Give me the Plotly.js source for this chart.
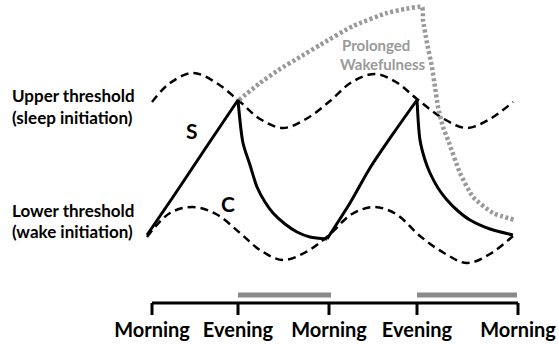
<!DOCTYPE html>
<html>
<head>
<meta charset="utf-8">
<script src="https://cdn.plot.ly/plotly-3.0.1.min.js"></script>
<style>html,body{margin:0;padding:0;background:#fff;}#chart{width:559px;height:344px;}</style>
</head>
<body>
<div id="chart"></div>
<script>
// Time in arbitrary units (0 = first morning), level in arbitrary units
const upperX = [0,18,41,63,86,108,131,154,178,200,223,244,265,292,315,338,361];
const upperY = [198,217,227,218,200,181,172,181,199,218,226,218,201,181,172,181,198];
const lowerX = [-5,18,41,64,88,108,131,154,176,200,222,244,268,292,315,338,361];
const lowerY = [63,87,93,86,67,50,40,48,64,86,93,86,64,47,37,46,64];
const wake1X = [-5,21,55,86];
const wake1Y = [65,103,154,200];
const sleep1X = [86,91,98,105,113,121,133,145,158,175];
const sleep1Y = [200,157,135,113,98,87,76,68,63,61];
const wake2X = [175,198,218,243,265];
const wake2Y = [61,97,132,169,200];
const sleep2X = [265,268,273,278,286,295,306,318,338,361];
const sleep2Y = [200,160,140,127,112,100,89,80,71,65];
const prolongedX = [87,108,128,148,168,201,235,253,270,271,275,280,283,286,291,296,308,321,341,363];
const prolongedY = [200,217,231,243,255,274,287,291,293,280,257,233,213,193,173,160,127,103,87,80];
const tickPos = [0,86,177,265,366];
const tickLabels = ["Morning","Evening","Morning","Evening","Morning"];
const sleepStart = [86,265];
const sleepEnd = [179,365];

const FONT = "Lato, 'Open Sans', sans-serif";
const traces = [];
const dashed = {color:'#000', width:2.5, dash:'8px,5px', shape:'spline', smoothing:1};
traces.push({x:upperX, y:upperY, mode:'lines', line:dashed, hoverinfo:'skip'});
traces.push({x:lowerX, y:lowerY, mode:'lines', line:dashed, hoverinfo:'skip'});
traces.push({x:prolongedX, y:prolongedY, mode:'lines', line:{color:'#999999', width:4.5, dash:'3px,2.5px', shape:'spline', smoothing:0.5}, hoverinfo:'skip'});
[[wake1X,wake1Y],[sleep1X,sleep1Y],[wake2X,wake2Y],[sleep2X,sleep2Y]].forEach(function(s){
  traces.push({x:s[0], y:s[1], mode:'lines', line:{color:'#000', width:3, shape:'spline', smoothing:0.8}, hoverinfo:'skip'});
});
// timeline
const lineY = -3, tickBottom = -15, barY = 5, labelY = -32;
traces.push({x:[tickPos[0], tickPos[tickPos.length-1]], y:[lineY,lineY], mode:'lines', line:{color:'#000', width:3}, hoverinfo:'skip'});
const tx = [], ty = [];
tickPos.forEach(function(p){ tx.push(p,p,null); ty.push(lineY,tickBottom,null); });
traces.push({x:tx, y:ty, mode:'lines', line:{color:'#000', width:3}, hoverinfo:'skip'});
const bx = [], by = [];
sleepStart.forEach(function(s,i){ bx.push(s, sleepEnd[i], null); by.push(barY, barY, null); });
traces.push({x:bx, y:by, mode:'lines', line:{color:'#8a8a8a', width:5}, hoverinfo:'skip'});
traces.push({x:tickPos, y:tickPos.map(function(){return labelY;}), mode:'text', text:tickLabels, textposition:'middle center', textfont:{family:FONT, size:20, color:'#000', weight:'bold'}, hoverinfo:'skip', cliponaxis:false});

function ann(x,y,text,size,color,anchor){
  return {x:x, y:y, xref:'x', yref:'y', text:text, showarrow:false, xanchor:anchor||'left', yanchor:'middle', font:{family:FONT, size:size, color:color||'#000', weight:'bold'}};
}
const layout = {
  width:559, height:344, margin:{l:0,r:0,t:0,b:0}, showlegend:false,
  paper_bgcolor:'#fff', plot_bgcolor:'#fff',
  xaxis:{range:[-152,407], visible:false, fixedrange:true},
  yaxis:{range:[-44,300], visible:false, fixedrange:true},
  annotations:[
    ann(-142,205,'<b>Upper threshold</b>',17),
    ann(-142,183,'<b>(sleep initiation)</b>',17),
    ann(-142,90,'<b>Lower threshold</b>',17),
    ann(-142,69,'<b>(wake initiation)</b>',17),
    ann(40,170,'<b>S</b>',21,'#000','center'),
    ann(76,97,'<b>C</b>',21,'#000','center'),
    ann(188,255,'<b>Prolonged</b>',15,'#9a9a9a'),
    ann(186,236,'<b>Wakefulness</b>',15,'#9a9a9a')
  ]
};
Plotly.newPlot('chart', traces, layout, {staticPlot:true, displayModeBar:false});
</script>
</body>
</html>
